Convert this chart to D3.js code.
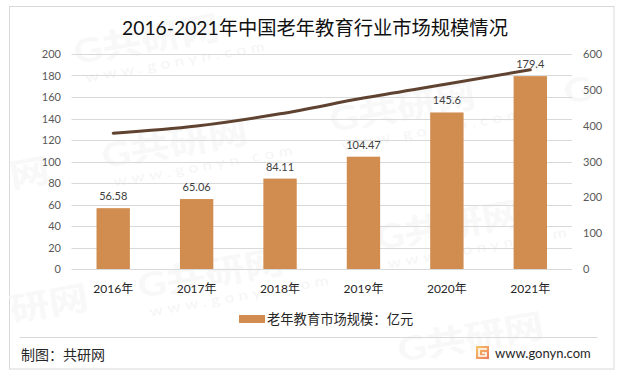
<!DOCTYPE html>
<html>
<head>
<meta charset="utf-8">
<script src="https://cdn.jsdelivr.net/npm/d3@7"></script>
<style>
  html, body { margin: 0; padding: 0; background: #fff; }
  svg { display: block; }
  text { font-family: Lato, "Noto Sans CJK SC", sans-serif; }
</style>
</head>
<body>
<div id="chart"></div>
<script>
// data
var categories = ["2016年", "2017年", "2018年", "2019年", "2020年", "2021年"];
var barValues = [56.58, 65.06, 84.11, 104.47, 145.6, 179.4];
var lineValues = [379, 399, 433, 477, 516, 556];
var leftTicks = [0, 20, 40, 60, 80, 100, 120, 140, 160, 180, 200];
var rightTicks = [0, 100, 200, 300, 400, 500, 600];

var titleText = "2016-2021年中国老年教育行业市场规模情况";
var legendText = "老年教育市场规模：亿元";
var sourceText = "制图：共研网";
var siteText = "www.gonyn.com";

// watermark stamps: [x, y, text, show site line]
var stamps = [
  [76, 64, "G共研网", 1],
  [104, 168, "G共研网", 1],
  [140, 298, "G共研网", 1],
  [332, 132, "G共研网", 1],
  [378, 250, "G共研网", 1],
  [400, 362, "G共研网", 0],
  [566, 104, "G", 0],
  [12, 188, "网", 0],
  [12, 322, "研网", 0]
];

var svgWidth = 620, svgHeight = 374;
var margin = { top: 54, right: 48, bottom: 105, left: 71.5 };
var width = svgWidth - margin.left - margin.right,
    height = svgHeight - margin.top - margin.bottom;

var svg = d3.select("#chart").append("svg")
  .attr("width", svgWidth)
  .attr("height", svgHeight);

// frame
svg.append("rect")
  .attr("x", 9.5).attr("y", 6.5)
  .attr("width", 604.5).attr("height", 362.5)
  .attr("fill", "#fff")
  .attr("stroke", "#d9d9d9");

// watermark goes under everything
var wm = svg.selectAll(".stamp").data(stamps).enter().append("g")
  .attr("class", "stamp")
  .attr("transform", function (d) { return "translate(" + d[0] + "," + d[1] + ") rotate(-10) scale(1.2,1)"; });
wm.append("text")
  .attr("font-size", 33).attr("font-weight", 700)
  .attr("fill", "#f8f8f8")
  .text(function (d) { return d[2]; });
wm.filter(function (d) { return d[3]; }).append("text")
  .attr("x", 6).attr("y", 20)
  .attr("font-size", 14)
  .attr("letter-spacing", 4)
  .attr("fill", "#f5f5f5")
  .text(siteText);

var g = svg.append("g")
  .attr("transform", "translate(" + margin.left + "," + margin.top + ")");

// scales
var x = d3.scaleBand().domain(categories).range([0, width]).paddingInner(0.6).paddingOuter(0.3);
var xPoint = function (d) { return x(d) + x.bandwidth() / 2; };
var yLeft = d3.scaleLinear().domain([0, 200]).range([height, 0]);
var yRight = d3.scaleLinear().domain([0, 600]).range([height, 0]);

// axes
var yAxisLeft = d3.axisLeft(yLeft).tickValues(leftTicks).tickSize(0).tickPadding(10.5);
var yAxisRight = d3.axisRight(yRight).tickValues(rightTicks).tickSize(0).tickPadding(11);
var xAxis = d3.axisBottom(x).tickSize(0).tickPadding(15);

// gridlines
g.selectAll(".grid").data(leftTicks).enter().append("line")
  .attr("class", "grid")
  .attr("x1", 0).attr("x2", width)
  .attr("y1", function (d) { return Math.round(yLeft(d)) + 0.5; })
  .attr("y2", function (d) { return Math.round(yLeft(d)) + 0.5; })
  .attr("stroke", "#d9d9d9");

g.append("g").call(yAxisLeft)
  .call(function (a) { a.select(".domain").remove(); })
  .selectAll("text").attr("font-size", 11).attr("fill", "#595959");

g.append("g").attr("transform", "translate(" + width + ",0)").call(yAxisRight)
  .call(function (a) { a.select(".domain").remove(); })
  .selectAll("text").attr("font-size", 11).attr("fill", "#595959");

g.append("g").attr("transform", "translate(0," + height + ")").call(xAxis)
  .call(function (a) { a.select(".domain").remove(); })
  .selectAll("text").attr("font-size", 12).attr("fill", "#262626");

// bars
g.selectAll(".bar").data(barValues).enter().append("rect")
  .attr("class", "bar")
  .attr("x", function (d, i) { return x(categories[i]); })
  .attr("y", function (d) { return yLeft(d); })
  .attr("width", x.bandwidth())
  .attr("height", function (d) { return height - yLeft(d); })
  .attr("fill", "#d18c4f");

// bar value labels
g.selectAll(".label").data(barValues).enter().append("text")
  .attr("class", "label")
  .attr("x", function (d, i) { return xPoint(categories[i]); })
  .attr("y", function (d) { return yLeft(d) - 8; })
  .attr("text-anchor", "middle")
  .attr("font-size", 11)
  .attr("fill", "#404040")
  .text(function (d) { return d; });

// line on the right axis
var line = d3.line()
  .x(function (d, i) { return xPoint(categories[i]); })
  .y(function (d) { return yRight(d); })
  .curve(d3.curveMonotoneX);

g.append("path").datum(lineValues)
  .attr("d", line)
  .attr("fill", "none")
  .attr("stroke", "#5f4330")
  .attr("stroke-width", 3)
  .attr("stroke-linecap", "round");

// title
svg.append("text")
  .attr("x", 315).attr("y", 35)
  .attr("text-anchor", "middle")
  .attr("font-size", 19.3)
  .attr("fill", "#111")
  .text(titleText);

// legend
svg.append("rect")
  .attr("x", 239).attr("y", 315)
  .attr("width", 26).attr("height", 8)
  .attr("fill", "#d18c4f");
svg.append("text")
  .attr("x", 267).attr("y", 324)
  .attr("font-size", 13.3)
  .attr("fill", "#262626")
  .text(legendText);

// footer
svg.append("line")
  .attr("x1", 19.5).attr("x2", 597.5)
  .attr("y1", 337.5).attr("y2", 337.5)
  .attr("stroke", "#d9d9d9");
svg.append("text")
  .attr("x", 21).attr("y", 360)
  .attr("font-size", 14)
  .attr("fill", "#262626")
  .text(sourceText);

// logo
var grad = svg.append("defs").append("linearGradient")
  .attr("id", "logoGrad")
  .attr("x1", "0%").attr("y1", "0%").attr("x2", "100%").attr("y2", "100%");
grad.append("stop").attr("offset", "0%").attr("stop-color", "#f6c667");
grad.append("stop").attr("offset", "100%").attr("stop-color", "#ee7a5a");
svg.append("rect")
  .attr("x", 476).attr("y", 346)
  .attr("width", 13).attr("height", 13)
  .attr("fill", "url(#logoGrad)");
svg.append("path")
  .attr("d", d3.line()([[487, 349], [479, 349], [479, 356], [486, 356], [486, 353], [482, 353]]))
  .attr("fill", "none")
  .attr("stroke", "#fff")
  .attr("stroke-width", 1.6);
svg.append("text")
  .attr("x", 495).attr("y", 358)
  .attr("font-size", 13)
  .attr("fill", "#262626")
  .text(siteText);
</script>
</body>
</html>
